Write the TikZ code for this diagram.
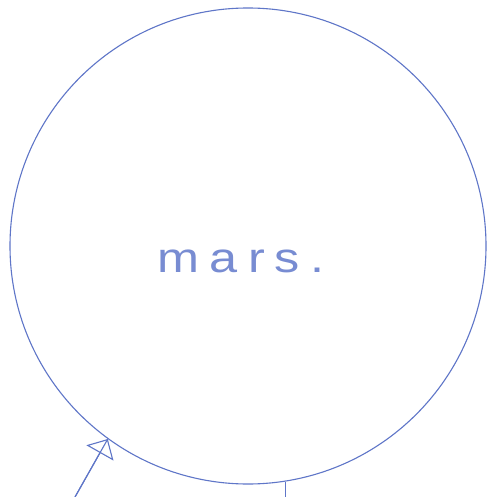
\documentclass[tikz,border=0pt]{standalone}
\usepackage{fontspec}
\usetikzlibrary{arrows.meta}
\newfontfamily\handfont[LetterSpace=20]{Liberation Sans}
\definecolor{pen}{RGB}{95,118,200}
\definecolor{inkl}{RGB}{120,140,210}
\tikzset{
  pen line/.style={draw=pen, line width=1.1pt},
  planet/.style={circle, pen line, minimum size=476pt, inner sep=0pt},
  label text/.style={text=inkl, font=\handfont\fontsize{42}{42}\selectfont, xscale=1.2, anchor=base},
  open arrow/.style={pen line, -{Triangle[open, length=16pt, width=31pt]}}
}
\begin{document}
\begin{tikzpicture}[x=1pt, y=-1pt]
  \useasboundingbox[fill=white] (0,0) rectangle (490,497);
  \node[planet] (mars) at (248,246) {};
  \node[label text] (lbl) at (241,272) {mars.};
  \coordinate (a0) at (75,497);
  \coordinate (b0) at (287,497);
  \draw[pen line] (a0) -- (mars.234);
  \draw[open arrow] (a0) -- (mars.234);
  \draw[pen line] (mars.279) -- (mars.279 |- b0);
\end{tikzpicture}
\end{document}
